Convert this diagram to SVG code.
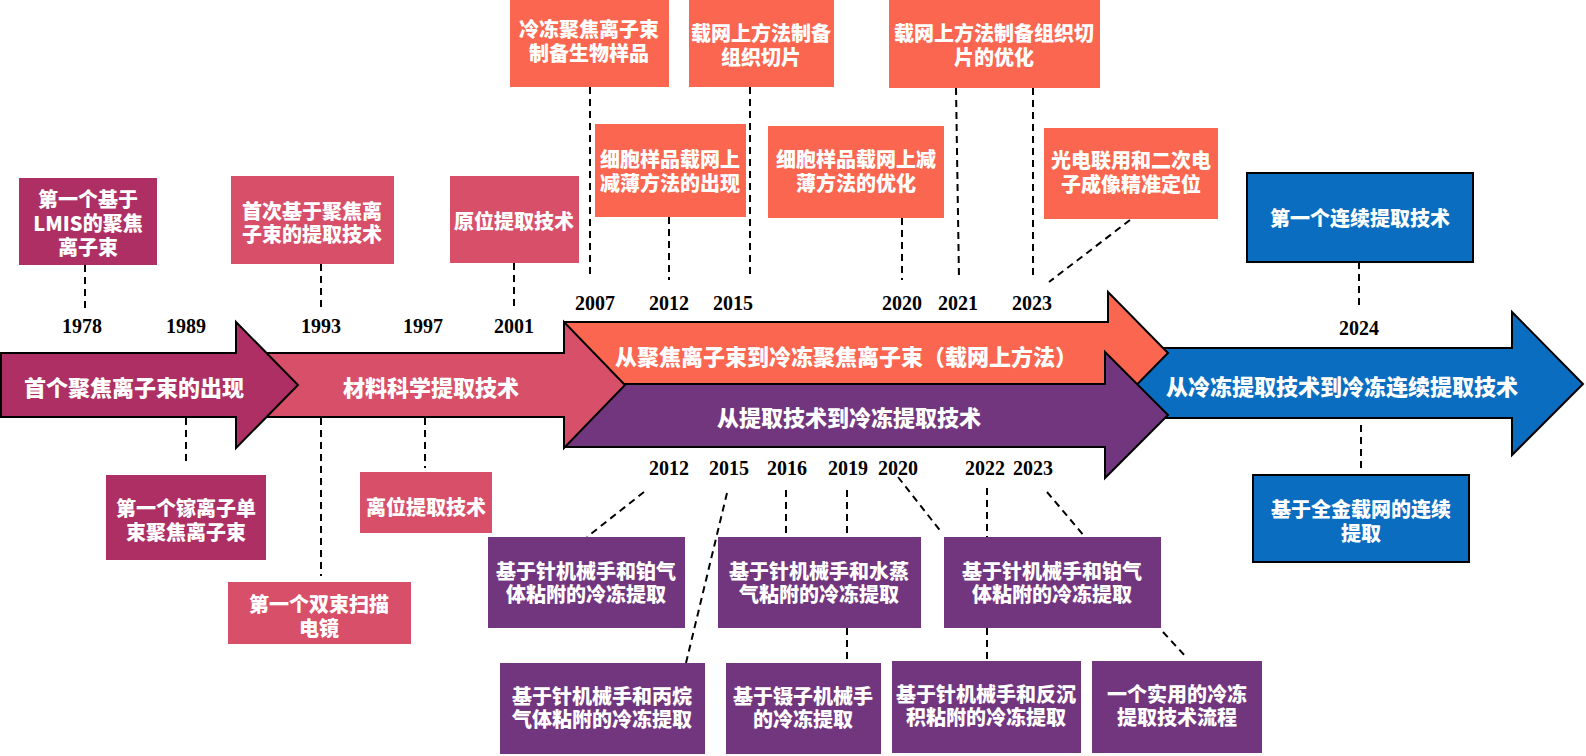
<svg xmlns="http://www.w3.org/2000/svg" width="1586" height="756" viewBox="0 0 1586 756">
<style>
.t{font-family:"Noto Sans CJK SC","Noto Sans",sans-serif;font-weight:900;fill:#fff;text-anchor:middle;dominant-baseline:central}
.s20{font-size:20px}
.s22{font-size:22px}
.y{font-family:"Liberation Serif",serif;font-weight:700;font-size:20px;fill:#000;text-anchor:middle}
.ar{stroke:#000;stroke-width:2;stroke-linejoin:miter}
.d{stroke:#000;stroke-width:2;stroke-dasharray:7 5;fill:none}
.mg{fill:#AD2F63}.pk{fill:#D84F6A}.co{fill:#FB6650}.pu{fill:#72367F}.bl{fill:#0A6DBF}
.bb{stroke:#000;stroke-width:2}
</style>
<rect width="1586" height="756" fill="#fff"/>

<g id="connectors">
<line class="d" x1="85" y1="265" x2="85" y2="310"/>
<line class="d" x1="321" y1="264" x2="321" y2="310"/>
<line class="d" x1="514" y1="263" x2="514" y2="310"/>
<line class="d" x1="186" y1="418" x2="186" y2="465"/>
<line class="d" x1="321" y1="418" x2="321" y2="576"/>
<line class="d" x1="425" y1="418" x2="425" y2="468"/>
<line class="d" x1="590" y1="87" x2="590" y2="278"/>
<line class="d" x1="669" y1="217" x2="669" y2="280"/>
<line class="d" x1="750" y1="87" x2="750" y2="278"/>
<line class="d" x1="902" y1="218" x2="902" y2="280"/>
<line class="d" x1="956" y1="88" x2="959" y2="278"/>
<line class="d" x1="1033" y1="88" x2="1033" y2="278"/>
<line class="d" x1="1130" y1="220" x2="1049" y2="282"/>
<line class="d" x1="1359" y1="262" x2="1359" y2="310"/>
<line class="d" x1="1361" y1="425" x2="1361" y2="472"/>
<line class="d" x1="644" y1="492" x2="587" y2="537"/>
<line class="d" x1="727" y1="493" x2="686" y2="663"/>
<line class="d" x1="786" y1="490" x2="786" y2="537"/>
<line class="d" x1="847" y1="490" x2="847" y2="537"/>
<line class="d" x1="847" y1="628" x2="847" y2="661"/>
<line class="d" x1="898" y1="477" x2="942" y2="533"/>
<line class="d" x1="987" y1="488" x2="987" y2="537"/>
<line class="d" x1="987" y1="628" x2="987" y2="661"/>
<line class="d" x1="1047" y1="492" x2="1085" y2="537"/>
<line class="d" x1="1163" y1="632" x2="1187" y2="658"/>
</g>

<g id="arrow-blue">
<polygon class="ar bl" points="1130,348 1512,348 1512,312 1583,384 1512,455 1512,418 1130,418"/>
<text class="t s22" x="1342" y="385">从冷冻提取技术到冷冻连续提取技术</text>
</g>
<g id="arrow-orange">
<polygon class="ar co" points="564,322 1108,322 1108,292 1168,353 1108,414 1108,384 564,384"/>
<text class="t s22" x="846" y="355">从聚焦离子束到冷冻聚焦离子束（载网上方法）</text>
</g>
<g id="arrow-purple">
<polygon class="ar pu" points="564,384 1105,384 1105,352 1168,415 1105,478 1105,447 564,447"/>
<text class="t s22" x="849" y="416">从提取技术到冷冻提取技术</text>
</g>
<g id="arrow-pink">
<polygon class="ar pk" points="200,353 564,353 564,322 625,385 564,448 564,417 200,417"/>
<text class="t s22" x="431" y="386">材料科学提取技术</text>
</g>
<g id="arrow-magenta">
<polygon class="ar mg" points="1,353 236,353 236,322 298,385 236,448 236,417 1,417"/>
<text class="t s22" x="134" y="386">首个聚焦离子束的出现</text>
</g>

<g id="years">
<text class="y" x="82" y="333">1978</text>
<text class="y" x="186" y="333">1989</text>
<text class="y" x="321" y="333">1993</text>
<text class="y" x="423" y="333">1997</text>
<text class="y" x="514" y="333">2001</text>
<text class="y" x="595" y="310">2007</text>
<text class="y" x="669" y="310">2012</text>
<text class="y" x="733" y="310">2015</text>
<text class="y" x="902" y="310">2020</text>
<text class="y" x="958" y="310">2021</text>
<text class="y" x="1032" y="310">2023</text>
<text class="y" x="1359" y="335">2024</text>
<text class="y" x="669" y="475">2012</text>
<text class="y" x="729" y="475">2015</text>
<text class="y" x="787" y="475">2016</text>
<text class="y" x="848" y="475">2019</text>
<text class="y" x="898" y="475">2020</text>
<text class="y" x="985" y="475">2022</text>
<text class="y" x="1033" y="475">2023</text>
</g>

<g id="n1978"><rect class="mg" x="19" y="178" width="138" height="87"/>
<text class="t s20" y="198"><tspan x="88">第一个基于</tspan><tspan x="88" dy="24">LMIS的聚焦</tspan><tspan x="88" dy="24">离子束</tspan></text></g>
<g id="n1993"><rect class="pk" x="231" y="176" width="163" height="88"/>
<text class="t s20" y="210"><tspan x="312">首次基于聚焦离</tspan><tspan x="312" dy="23">子束的提取技术</tspan></text></g>
<g id="n2001"><rect class="pk" x="450" y="176" width="129" height="87"/>
<text class="t s20" x="514" y="220">原位提取技术</text></g>
<g id="n1989"><rect class="mg" x="106" y="475" width="160" height="85"/>
<text class="t s20" y="507"><tspan x="186">第一个镓离子单</tspan><tspan x="186" dy="24">束聚焦离子束</tspan></text></g>
<g id="n1993b"><rect class="pk" x="228" y="582" width="183" height="62"/>
<text class="t s20" y="603"><tspan x="319">第一个双束扫描</tspan><tspan x="319" dy="24">电镜</tspan></text></g>
<g id="n1997"><rect class="pk" x="360" y="472" width="132" height="61"/>
<text class="t s20" x="426" y="506">离位提取技术</text></g>

<g id="n2007"><rect class="co" x="510" y="-2" width="159" height="89"/>
<text class="t s20" y="28"><tspan x="589">冷冻聚焦离子束</tspan><tspan x="589" dy="24">制备生物样品</tspan></text></g>
<g id="n2015"><rect class="co" x="689" y="-2" width="145" height="89"/>
<text class="t s20" y="32"><tspan x="761">载网上方法制备</tspan><tspan x="761" dy="24">组织切片</tspan></text></g>
<g id="n2021"><rect class="co" x="889" y="-2" width="211" height="90"/>
<text class="t s20" y="32"><tspan x="994">载网上方法制备组织切</tspan><tspan x="994" dy="24">片的优化</tspan></text></g>
<g id="n2012"><rect class="co" x="595" y="124" width="151" height="93"/>
<text class="t s20" y="158"><tspan x="670">细胞样品载网上</tspan><tspan x="670" dy="24">减薄方法的出现</tspan></text></g>
<g id="n2020"><rect class="co" x="768" y="126" width="176" height="92"/>
<text class="t s20" y="158"><tspan x="856">细胞样品载网上减</tspan><tspan x="856" dy="24">薄方法的优化</tspan></text></g>
<g id="n2023"><rect class="co" x="1044" y="128" width="174" height="91"/>
<text class="t s20" y="159"><tspan x="1131">光电联用和二次电</tspan><tspan x="1131" dy="24">子成像精准定位</tspan></text></g>

<g id="n2024a"><rect class="bl bb" x="1247" y="173" width="226" height="89"/>
<text class="t s20" x="1360" y="217">第一个连续提取技术</text></g>
<g id="n2024b"><rect class="bl bb" x="1253" y="475" width="216" height="87"/>
<text class="t s20" y="508"><tspan x="1361">基于全金载网的连续</tspan><tspan x="1361" dy="24">提取</tspan></text></g>

<g id="p2012"><rect class="pu" x="488" y="537" width="197" height="91"/>
<text class="t s20" y="570"><tspan x="586">基于针机械手和铂气</tspan><tspan x="586" dy="23">体粘附的冷冻提取</tspan></text></g>
<g id="p2016"><rect class="pu" x="718" y="537" width="203" height="91"/>
<text class="t s20" y="570"><tspan x="819">基于针机械手和水蒸</tspan><tspan x="819" dy="23">气粘附的冷冻提取</tspan></text></g>
<g id="p2022"><rect class="pu" x="944" y="537" width="217" height="91"/>
<text class="t s20" y="570"><tspan x="1052">基于针机械手和铂气</tspan><tspan x="1052" dy="23">体粘附的冷冻提取</tspan></text></g>
<g id="p2015"><rect class="pu" x="500" y="663" width="205" height="91"/>
<text class="t s20" y="695"><tspan x="602">基于针机械手和丙烷</tspan><tspan x="602" dy="23">气体粘附的冷冻提取</tspan></text></g>
<g id="p2019"><rect class="pu" x="726" y="663" width="155" height="91"/>
<text class="t s20" y="695"><tspan x="803">基于镊子机械手</tspan><tspan x="803" dy="23">的冷冻提取</tspan></text></g>
<g id="p2022b"><rect class="pu" x="892" y="661" width="189" height="92"/>
<text class="t s20" y="693"><tspan x="986">基于针机械手和反沉</tspan><tspan x="986" dy="23">积粘附的冷冻提取</tspan></text></g>
<g id="p2023"><rect class="pu" x="1092" y="661" width="170" height="92"/>
<text class="t s20" y="693"><tspan x="1177">一个实用的冷冻</tspan><tspan x="1177" dy="23">提取技术流程</tspan></text></g>
</svg>
